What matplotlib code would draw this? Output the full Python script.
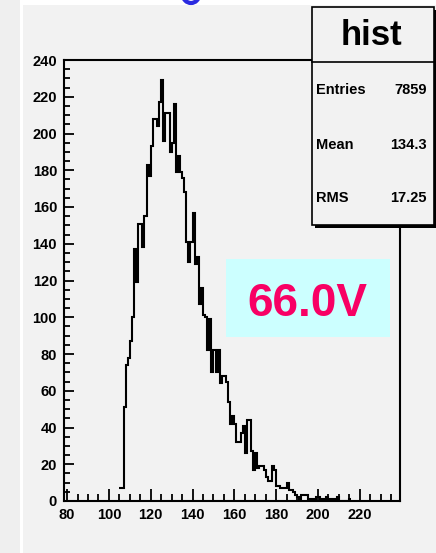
import matplotlib
matplotlib.use("Agg")
import matplotlib.pyplot as plt
from matplotlib.patches import Rectangle, Ellipse
from matplotlib.lines import Line2D
from matplotlib.ticker import MultipleLocator, FixedLocator
import numpy as np

plt.rcParams['font.family'] = ['Liberation Sans', 'DejaVu Sans']

# ---- histogram contents (unit-wide bins starting at first_bin) ----
first_bin = 105
counts = [
    7, 7, 51, 74, 78, 87, 100,                              # 105-111
    137, 119, 151, 151, 138, 155, 183, 177, 193,            # 112-120
    208, 208, 204, 217, 229, 196, 211, 211, 190, 195,       # 121-130
    216, 179, 188, 179, 176, 168, 141, 130, 141, 157,       # 131-140
    129, 133, 107, 116, 101, 100, 82, 99, 70, 82,           # 141-150
    70, 82, 64, 68, 68, 65, 54, 42, 46, 42,                 # 151-160
    32, 32, 37, 41, 26, 44, 44, 27, 17, 26,                 # 161-170
    18, 19, 19, 17, 13, 11, 11, 19, 17, 8,                  # 171-180
    8, 7, 7, 7, 10, 6, 6, 5, 3, 2,                          # 181-190
    1, 3, 3, 3, 1, 1, 0, 1, 2, 2,                           # 191-200
    1, 1, 1, 2, 1, 0, 1, 0, 2, 0,                           # 201-210
    0, 0, 0, 0, 1,                                          # 211-215
]
edges = np.arange(first_bin, first_bin + len(counts) + 1)

x_range = (78.5, 239.2)
y_range = (0, 240)
x_major = list(range(80, 221, 20))
y_major = list(range(0, 241, 20))

hist_title = "hist"
stat_names = ["Entries", "Mean", "RMS"]
stat_values = ["7859", "134.3", "17.25"]
voltage_label = "66.0V"

W, H = 436, 553
fig = plt.figure(figsize=(W / 100, H / 100), dpi=100)
fig.patch.set_facecolor('#f2f2f2')


def fx(px):
    return px / W


def fy(py):
    return 1 - py / H


def fig_rect(x0, y0, x1, y1, **kw):
    r = Rectangle((fx(x0), fy(y1)), fx(x1) - fx(x0), fy(y0) - fy(y1),
                  transform=fig.transFigure, **kw)
    fig.patches.append(r)
    return r


# page background pieces
fig_rect(0, 0, 20, H, facecolor='#efefef', edgecolor='none', zorder=0.1)
fig_rect(20, 0, 23, H, facecolor='white', edgecolor='none', zorder=0.1)
fig_rect(23, 0, W, 5, facecolor='white', edgecolor='none', zorder=0.1)
# bottom of a blue heading glyph peeking in at the top edge
fig.patches.append(Ellipse((fx(191), fy(-5)), fx(16), 16 / H,
                           transform=fig.transFigure, facecolor='none',
                           edgecolor='#2a2ae0', linewidth=3, zorder=0.2))

# ---- main frame ----
ax = fig.add_axes([fx(64), fy(501), fx(400) - fx(64), fy(60) - fy(501)])
ax.set_facecolor('#f2f2f2')
ax.stairs(counts, edges, color='black', linewidth=1.5, baseline=None)
ax.set_xlim(*x_range)
ax.set_ylim(*y_range)

for s in ax.spines.values():
    s.set_linewidth(1.5)
    s.set_color('black')

ax.xaxis.set_major_locator(FixedLocator(x_major))
ax.yaxis.set_major_locator(FixedLocator(y_major))
ax.xaxis.set_minor_locator(MultipleLocator(5))
ax.yaxis.set_minor_locator(MultipleLocator(5))
ax.tick_params(axis='x', which='major', direction='in', length=9, width=1.3,
               pad=5, labelsize=10.5)
ax.tick_params(axis='x', which='minor', direction='in', length=5, width=1.3)
ax.tick_params(axis='y', which='major', direction='in', length=7, width=1.3,
               pad=5, labelsize=10.5)
ax.tick_params(axis='y', which='minor', direction='in', length=4, width=1.3)
ax.tick_params(top=False, right=False, which='both')
for lab in ax.get_xticklabels() + ax.get_yticklabels():
    lab.set_fontweight('bold')

# ---- statistics box ----
bx0, by0, bx1, by1 = 312, 7, 434, 225
fig_rect(bx0 + 2.5, by0 + 2.5, bx1 + 2.5, by1 + 2.5, facecolor='black',
         edgecolor='none', zorder=5)
fig_rect(bx0, by0, bx1, by1, facecolor='#f2f2f2', edgecolor='black',
         linewidth=1.2, zorder=6)
fig.lines.append(Line2D([fx(bx0), fx(bx1)], [fy(62), fy(62)],
                        transform=fig.transFigure, color='black',
                        linewidth=1.2, zorder=7))
fig.text(fx(371), fy(45), hist_title, fontsize=25, fontweight='bold',
         ha='center', va='baseline', zorder=8)
for name, val, base in zip(stat_names, stat_values, [94, 149, 202]):
    fig.text(fx(316), fy(base), name, fontsize=10.5, fontweight='bold',
             ha='left', va='baseline', zorder=8)
    fig.text(fx(427), fy(base), val, fontsize=10.5, fontweight='bold',
             ha='right', va='baseline', zorder=8)

# ---- voltage label ----
fig_rect(226, 259, 390, 337, facecolor='#ccffff', edgecolor='none', zorder=5)
fig.text(fx(307), fy(316), voltage_label, color='#f80064', fontsize=33,
         fontweight='bold', ha='center', va='baseline', zorder=8)

fig.savefig("out.png", dpi=100, facecolor=fig.get_facecolor())
